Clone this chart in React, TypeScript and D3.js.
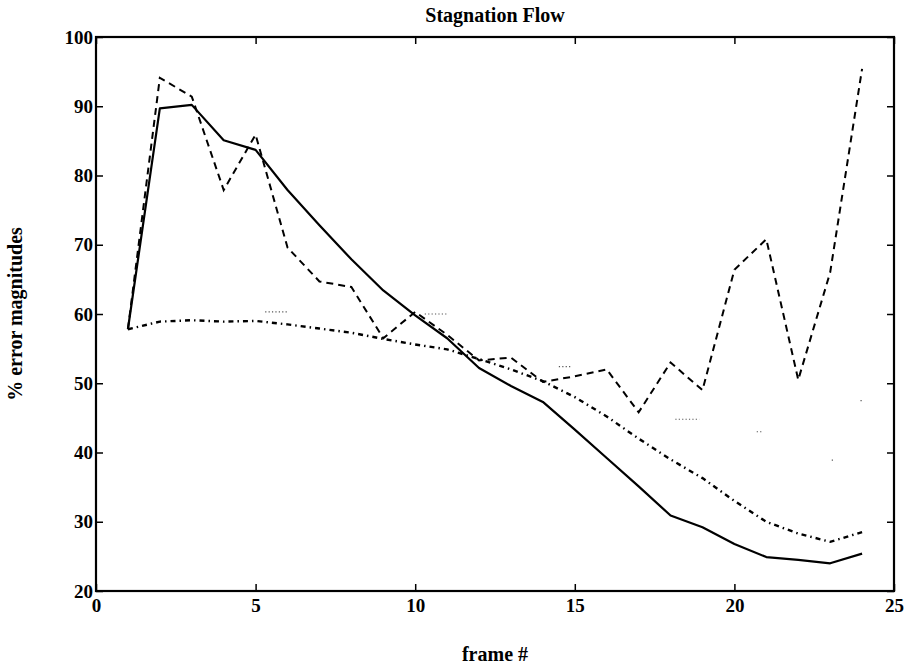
import React, { useRef, useEffect } from 'react';
import * as d3 from 'd3';

// frame numbers shared by all series
const frames = [1, 2, 3, 4, 5, 6, 7, 8, 9, 10, 11, 12, 13, 14, 15, 16, 17, 18, 19, 20, 21, 22, 23, 24];

// % error magnitudes per frame
const solidErr = [57.8, 89.7, 90.2, 85.1, 83.7, 77.9, 72.8, 67.9, 63.4, 59.8, 56.5, 52.2, 49.6, 47.3, 43.3, 39.2, 35.1, 30.9, 29.2, 26.8, 24.9, 24.5, 24.0, 25.4];
const dashedErr = [57.8, 94.1, 91.4, 77.9, 85.9, 69.6, 64.7, 63.9, 56.5, 60.3, 57.0, 53.3, 53.7, 50.2, 51.0, 52.0, 45.8, 53.0, 49.0, 66.4, 70.8, 50.5, 66.0, 95.4];
const dashDotErr = [57.8, 58.9, 59.1, 58.9, 59.0, 58.5, 57.9, 57.3, 56.4, 55.6, 54.9, 53.5, 52.0, 50.3, 48.0, 45.2, 42.0, 39.0, 36.3, 33.0, 30.0, 28.3, 27.1, 28.5];

// faint dotted fragments left by the scan: [x start, x end, y]
const fragX0 = [5.3, 10.3, 14.5, 18.15, 20.7, 23.05, 23.95];
const fragX1 = [6.0, 11.0, 14.9, 18.9, 20.9, 23.15, 24.05];
const fragY = [60.3, 60.0, 52.4, 44.8, 43.0, 38.9, 47.5];

const xTicks = [0, 5, 10, 15, 20, 25];
const yTicks = [20, 30, 40, 50, 60, 70, 80, 90, 100];

const font = '"Liberation Serif", "DejaVu Serif", serif';

const App = () => {
  const svgRef = useRef<SVGSVGElement>(null);

  useEffect(() => {
    const W = 909;
    const H = 671;
    const margin = { top: 37, right: 15, bottom: 80, left: 96 };
    const width = W - margin.left - margin.right;
    const height = H - margin.top - margin.bottom;

    const root = d3.select(svgRef.current);
    root.selectAll('*').remove();
    root.attr('width', W).attr('height', H);

    root.append('rect').attr('width', W).attr('height', H).attr('fill', '#fff');

    const svg = root.append('g').attr('transform', `translate(${margin.left},${margin.top})`);

    const x = d3.scaleLinear().domain([0, 25]).range([0, width]);
    const y = d3.scaleLinear().domain([20, 100]).range([height, 0]);

    const line = d3.line<number>()
      .x((_, i) => x(frames[i]))
      .y(d => y(d));

    // series
    svg.append('path')
      .datum(dashDotErr)
      .attr('fill', 'none')
      .attr('stroke', '#000')
      .attr('stroke-width', 2.4)
      .attr('stroke-dasharray', '5,4,1.5,4')
      .attr('d', line);

    svg.append('path')
      .datum(dashedErr)
      .attr('fill', 'none')
      .attr('stroke', '#000')
      .attr('stroke-width', 2)
      .attr('stroke-dasharray', '7,5')
      .attr('d', line);

    svg.append('path')
      .datum(solidErr)
      .attr('fill', 'none')
      .attr('stroke', '#000')
      .attr('stroke-width', 2.2)
      .attr('stroke-linejoin', 'round')
      .attr('d', line);

    // dotted fragments
    svg.append('g')
      .selectAll('line')
      .data(fragY)
      .join('line')
      .attr('x1', (_, i) => x(fragX0[i]))
      .attr('x2', (_, i) => x(fragX1[i]))
      .attr('y1', d => y(d))
      .attr('y2', d => y(d))
      .attr('stroke', '#555')
      .attr('stroke-width', 1.2)
      .attr('stroke-dasharray', '1.2,2.2');

    // axes, ticks pointing inward
    const tickStyle = (g: any) => {
      g.select('.domain').remove();
      g.selectAll('.tick line').attr('stroke', '#000').attr('stroke-width', 1.5);
      g.selectAll('.tick text')
        .attr('fill', '#000')
        .style('font-family', font)
        .style('font-weight', 'bold')
        .style('font-size', '19px');
    };

    svg.append('g')
      .attr('transform', `translate(0,${height})`)
      .call(d3.axisBottom(x).tickValues(xTicks).tickSize(-7).tickPadding(8).tickFormat(d3.format('d')))
      .call(tickStyle);

    svg.append('g')
      .call(d3.axisTop(x).tickValues(xTicks).tickSize(-7).tickFormat(() => ''))
      .call(tickStyle);

    svg.append('g')
      .call(d3.axisLeft(y).tickValues(yTicks).tickSize(-7).tickPadding(3).tickFormat(d3.format('d')))
      .call(tickStyle);

    svg.append('g')
      .attr('transform', `translate(${width},0)`)
      .call(d3.axisRight(y).tickValues(yTicks).tickSize(-7).tickFormat(() => ''))
      .call(tickStyle);

    // frame box
    svg.append('rect')
      .attr('width', width)
      .attr('height', height)
      .attr('fill', 'none')
      .attr('stroke', '#000')
      .attr('stroke-width', 2.2);

    // title and labels
    root.append('text')
      .attr('x', margin.left + width / 2)
      .attr('y', 22)
      .attr('text-anchor', 'middle')
      .style('font-family', font)
      .style('font-weight', 'bold')
      .style('font-size', '20px')
      .text('Stagnation Flow');

    root.append('text')
      .attr('x', margin.left + width / 2)
      .attr('y', 661)
      .attr('text-anchor', 'middle')
      .style('font-family', font)
      .style('font-weight', 'bold')
      .style('font-size', '20px')
      .text('frame #');

    root.append('text')
      .attr('transform', `translate(22,${margin.top + height / 2}) rotate(-90)`)
      .attr('text-anchor', 'middle')
      .style('font-family', font)
      .style('font-weight', 'bold')
      .style('font-size', '20px')
      .text('% error magnitudes');
  }, []);

  return (
    <div>
      <svg ref={svgRef} style={{ position: 'absolute', left: 0, top: 0 }}></svg>
    </div>
  );
};

export default App;
